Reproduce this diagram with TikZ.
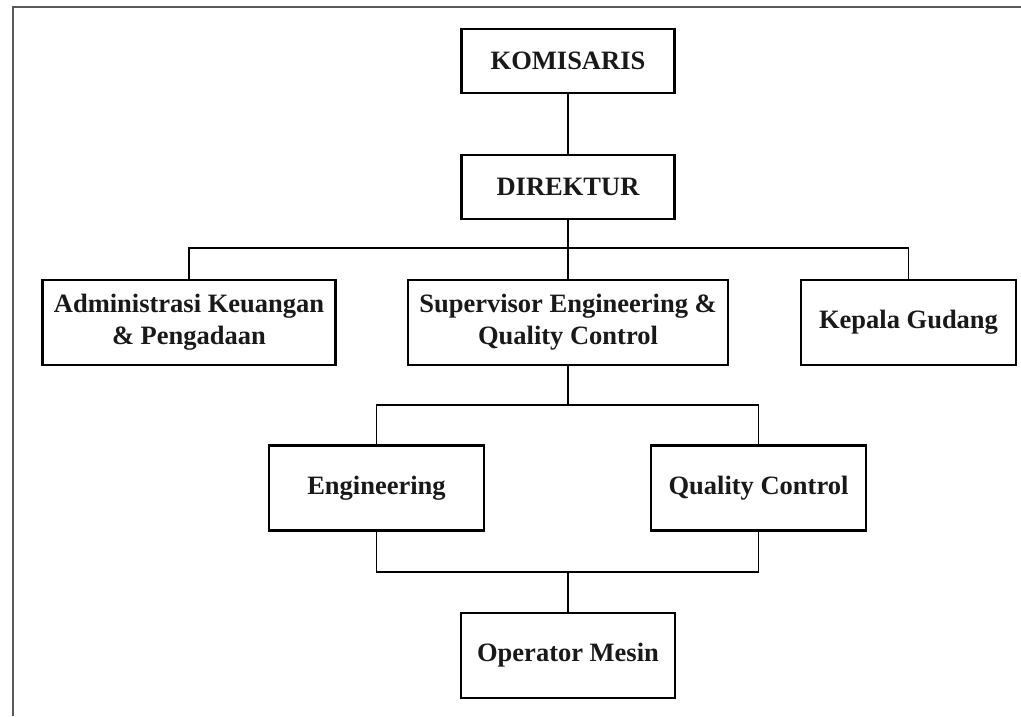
\documentclass[tikz,border=0pt]{standalone}
\usepackage{fontspec}
\setmainfont{Liberation Serif}
\begin{document}
\begin{tikzpicture}[x=1pt,y=-1pt,
  box/.style={draw, line width=2.4pt, align=center, inner sep=0pt,
    font=\bfseries\fontsize{26.5}{32}\selectfont, text=black!90},
  conn/.style={draw, line width=1.6pt}]
\useasboundingbox (0,0) rectangle (1021,716);
\draw[line width=2pt, black!65] (13,716) -- (13,7) -- (1021,7);

\node[box, minimum width=213pt, minimum height=64pt] (kom) at (568,61) {KOMISARIS};
\node[box, minimum width=213pt, minimum height=64pt] (dir) at (568,187) {DIREKTUR};
\node[box, minimum width=293pt, minimum height=85pt] (adm) at (189,322.5) {Administrasi Keuangan\\ \& Pengadaan};
\node[box, minimum width=320pt, minimum height=85pt] (sup) at (568,322.5) {Supervisor Engineering \&\\ Quality Control};
\node[box, minimum width=215pt, minimum height=85pt] (kep) at (908.5,322.5) {Kepala Gudang};
\node[box, minimum width=215pt, minimum height=85pt] (eng) at (376.5,488) {Engineering};
\node[box, minimum width=215pt, minimum height=85pt] (qc) at (758.5,488) {Quality Control};
\node[box, minimum width=214pt, minimum height=85pt] (op) at (568,655.5) {Operator Mesin};

\coordinate (j1) at (568,248);
\coordinate (j2) at (568,405);
\coordinate (j3) at (568,572);

\draw[conn] (kom) -- (dir);
\draw[conn] (dir) -- (j1);
\draw[conn] (adm.north) |- (j1) -| (kep.north);
\draw[conn] (j1) -- (sup);
\draw[conn] (sup) -- (j2);
\draw[conn] (eng.north) |- (j2) -| (qc.north);
\draw[conn] (eng.south) |- (j3) -| (qc.south);
\draw[conn] (j3) -- (op);
\end{tikzpicture}
\end{document}
